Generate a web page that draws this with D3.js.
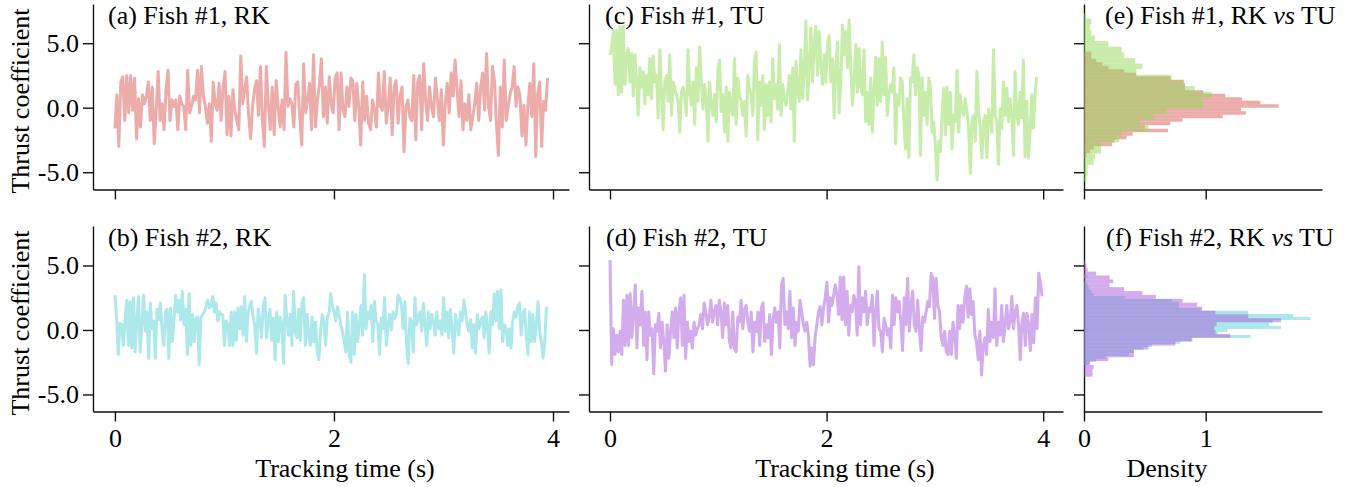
<!DOCTYPE html>
<html>
<head>
<meta charset="utf-8">
<script src="https://cdn.jsdelivr.net/npm/d3@7"></script>
<style>
  body { margin: 0; background: #fff; }
  svg text { font-family: "Liberation Serif", "Times New Roman", serif; }
</style>
</head>
<body>
<svg id="fig" width="1353" height="487"></svg>
<script>
const rkFish1 = [-1.6, 1.0, -3.0, 2.0, 2.4, -1.0, 2.5, -0.4, 2.5, -0.2, 2.3, -2.4, 0.7, -1.5, 1.0, 0.3, 0.9, 2.0, -1.0, 1.6,
  -2.8, -0.2, 2.8, -1.0, 0.3, -1.7, 1.4, 2.9, -1.0, 0.6, 0.1, 0.6, -1.7, 0.9, 0.3, 0.1, -1.7, 2.9, -0.4, 0.1,
  0.9, 0.6, 2.9, -0.4, 3.2, 0.9, 0.1, -1.2, 0.3, -2.6, 2.0, 0.3, -0.2, 1.9, -1.0, 1.6, 2.8, -2.1, 0.9, -2.2,
  1.4, -0.2, -1.0, -1.7, 4.0, 0.3, 1.4, 2.4, -0.6, -2.4, 0.1, 1.4, 2.1, -0.6, 3.2, -1.0, -3.0, 3.2, 0.3, -1.7,
  1.6, -2.1, 2.1, 0.1, -1.5, 0.6, -1.7, 4.3, 0.1, 0.7, 0.3, -1.5, 1.8, 2.0, -0.7, -2.9, 3.4, -0.4, 0.6, 1.9,
  -1.7, 4.1, -1.5, 0.6, 1.8, 3.8, -0.7, 1.6, -1.2, 2.4, 0.3, -0.4, 2.3, 2.7, -1.7, 2.7, -0.2, -0.7, 1.6, 0.1,
  2.3, 2.1, -1.0, 1.9, 0.1, -2.9, 2.0, -1.0, 0.9, -1.2, -1.7, 0.6, -0.2, -1.5, 2.7, 0.1, -0.2, 2.8, -1.2, 0.1,
  2.3, -2.1, 1.6, 2.1, -1.2, 0.9, 1.6, -3.4, 0.1, 0.6, -0.7, -1.0, 2.5, -2.5, 2.0, 2.5, -1.7, 3.4, 0.6, -1.0,
  1.6, 0.1, -0.7, 2.3, 0.6, -1.0, 1.4, -2.9, 0.3, 1.9, -0.4, 2.7, 0.9, 3.7, 1.4, -0.7, 2.1, -1.7, 0.3, -1.0,
  1.0, -1.7, -0.7, 0.3, 1.9, -1.0, 1.6, 2.7, -0.2, 4.2, 0.1, -1.0, 3.2, 2.1, -1.2, -3.7, 1.6, -1.5, 3.7, -1.0,
  0.1, 1.1, 1.6, 3.2, 0.1, 1.6, 0.9, -2.2, 0.2, -2.9, 0.1, 1.9, -0.7, 3.4, -3.8, 1.1, 2.0, -3.0, 0.5, -0.2, 2.3];

const rkFish2 = [2.7, 1.0, -1.9, 0.5, 0.4, -1.2, 0.8, 2.3, -1.2, 2.2, -1.4, 2.5, -1.7, 0.8, 2.6, -1.7, 0.4, 2.7, -0.1, 1.4,
  -2.2, 2.1, 0.1, 0.7, -2.2, 1.6, 0.8, 2.1, -0.1, -1.2, 1.4, 1.6, -2.2, 1.7, -0.9, 0.7, 2.7, 1.4, 2.3, 0.8,
  3.0, 0.4, 1.6, -1.9, 2.8, -1.2, 1.2, -0.9, 0.9, 1.0, -2.7, 1.0, 1.2, 1.4, 1.8, 2.3, 1.7, 1.9, 2.6, 1.4,
  2.1, 0.7, 1.4, 1.2, 1.2, -1.2, 0.7, 0.4, -1.2, 1.4, -1.2, 1.4, -0.8, 1.7, 0.1, 1.8, -0.4, 2.6, -0.9, 1.3,
  1.9, 2.2, 1.0, 0.3, -1.8, 1.6, 0.7, -0.6, 1.9, 2.5, -0.6, 0.7, 1.6, -0.8, 0.9, -2.3, 1.4, -0.9, 1.0, 0.5,
  -2.6, 2.7, 0.7, -0.4, 1.2, -1.2, 3.0, -0.1, -0.6, 1.6, -0.8, 2.1, 2.5, -1.2, 1.2, -0.4, -1.2, 1.0, -0.9, 0.6,
  -1.7, -2.3, -0.1, 1.2, 0.6, -1.2, 1.0, 1.3, 2.8, 1.9, 1.4, 0.7, 1.8, 1.2, 0.4, -0.1, -0.9, -1.7, 1.4, -1.9,
  -2.5, 1.4, -1.9, 1.2, -0.9, 0.4, 1.9, -0.4, 4.3, 0.1, 1.4, 0.9, 1.9, -0.9, 2.2, 0.7, 0.4, -1.9, 0.9, 0.1,
  2.5, -1.2, 0.4, 1.2, 0.0, 1.4, 0.9, 1.2, 2.7, 2.5, 1.9, 0.1, 2.2, -1.2, -2.6, 0.9, 0.7, -1.7, 2.5, 0.4,
  1.0, 1.4, -0.1, 2.1, 0.4, -1.2, 1.4, 0.1, 1.2, 0.7, -0.4, 1.4, 0.1, 0.7, -0.4, 2.5, -0.1, 1.4, -0.6, 1.6,
  0.1, -1.8, 1.2, 0.4, -0.4, 1.4, 0.7, 2.3, 1.4, 0.4, -0.1, 0.8, -1.4, 0.4, -1.8, 1.2, 0.1, 0.7, 1.0, -0.6,
  1.4, 0.4, -1.8, 1.4, 0.4, 2.8, 0.7, 3.0, 0.1, 3.1, -0.9, 0.4, 0.1, -1.2, 0.1, -1.4, 0.7, 1.4, 1.0, 1.8,
  2.1, -0.4, 1.2, 1.6, -0.4, -1.9, 1.4, -0.9, 1.2, -0.9, 0.4, 2.2, -0.1, -0.9, -2.2, -0.9, 1.8];

const tuFish1 = [4.1, 4.6, 6.0, 1.8, 6.0, 1.0, 6.3, 1.2, 6.3, 1.8, 4.1, 4.6, 2.0, 4.2, 0.9, 4.1, 2.0, -0.6, 3.1, 1.6,
  2.8, 0.3, 2.5, 1.0, 3.8, 0.7, 4.0, 2.0, 2.5, -0.8, 4.5, 1.2, -1.7, 2.0, 2.5, 0.5, 4.1, -0.6, 2.0, 1.5,
  1.0, 0.5, -1.9, 1.2, 1.6, 0.7, -0.6, 4.5, 1.2, 0.2, 2.0, -1.3, 3.1, 0.5, 4.7, 2.0, -0.1, 1.8, 0.7, -2.6,
  2.0, 0.2, -0.6, 1.0, -1.1, 2.9, 3.7, -0.3, 1.0, -1.9, 1.6, -2.6, 1.2, 0.2, -0.6, 3.8, -1.3, 2.3, 1.0, 0.5,
  -0.6, 0.5, -2.2, 2.5, 1.5, 1.0, -0.6, 3.6, 4.3, -2.5, 2.0, 0.2, 2.5, -1.7, 1.8, -0.6, 2.0, -1.1, 3.8, 0.7,
  1.8, -0.1, 4.9, -0.6, 1.8, 0.7, 0.2, 1.2, 2.5, -0.1, 3.1, -2.6, 3.6, 1.5, 0.5, 4.5, 0.7, 2.8, 6.7, 0.6,
  3.3, 6.2, 2.0, 5.1, 6.3, 2.5, 5.9, 3.3, 1.8, 4.1, 2.0, 4.9, 5.6, 2.0, 3.8, -0.8, 3.3, 5.1, -0.4, 2.0,
  6.4, 4.1, 5.9, 3.1, 6.8, 3.3, 0.2, 2.0, 4.9, 1.2, 4.6, 1.6, 1.0, 4.5, -1.1, 1.2, -1.3, 2.3, -1.9, 1.2,
  3.9, 0.2, 3.8, 0.5, 5.1, 1.0, 3.9, -0.6, 1.0, 1.8, 1.2, 3.1, -2.8, 1.0, 0.2, 2.3, 2.0, -1.1, -3.2, 0.7,
  -3.9, 2.3, 2.0, 4.1, 1.0, 3.1, 2.5, -3.7, 2.3, -0.6, 1.2, -1.3, 2.3, 1.6, -1.9, -1.1, -3.0, -5.6, -2.6, -3.4,
  -0.6, 1.5, -2.1, 1.6, -1.3, 1.2, -3.2, -0.6, -1.1, 2.9, -1.9, 1.0, -0.1, -0.6, 0.7, -0.3, -1.6, -5.1, -1.1, -0.6,
  -2.6, 2.8, -0.3, -1.6, -3.9, -1.1, -0.6, -3.9, -0.1, -0.8, -1.9, 4.5, -0.6, -1.1, -4.4, -0.1, -1.6, 2.0, -0.6, 1.5,
  -1.1, 0.7, -0.6, -3.7, 2.8, -0.6, -1.3, 1.2, -0.8, 3.7, -3.8, 0.5, -3.9, -1.9, 1.0, -1.6, 1.0, 2.4];

const tuFish2 = [5.4, -2.7, 0.1, -1.9, -0.4, -1.7, -0.1, -1.9, 2.3, -1.2, 2.7, -1.2, 2.8, -0.6, 1.4, 3.5, -1.4, 1.7, 0.4, 3.0,
  -1.2, 1.4, -2.3, 1.4, -0.4, 0.1, -3.4, 0.4, -0.1, 1.3, -1.4, 0.6, -0.9, -3.2, 0.4, -2.2, -0.1, 1.4, -0.6, 1.7,
  -1.4, 1.4, 2.5, -1.2, 2.7, -2.2, 0.6, -0.9, -0.1, -1.4, 0.6, -0.4, 0.1, 0.4, 1.2, 0.1, 2.1, 1.4, 0.4, 1.0,
  2.3, 0.6, 1.4, 1.9, 0.4, 2.3, 1.4, -0.6, 2.1, 0.4, 1.9, -0.9, -1.4, 1.4, -1.4, -1.7, 1.0, 0.6, 2.3, 0.1,
  1.6, 1.9, 0.6, -0.1, 1.4, -1.7, 0.6, -0.1, 1.4, -1.2, 1.7, 2.1, -0.9, 0.4, -0.6, 1.2, -1.9, 0.8, 1.7, 0.6,
  1.4, -1.4, 3.5, 4.0, 0.4, 1.4, 0.1, 3.0, -0.6, 1.7, -1.2, 0.6, -0.1, 2.3, 1.4, 0.4, -0.1, 0.6, -0.4, -2.8,
  -1.4, -2.7, -0.6, 0.4, 1.4, 1.8, 0.4, 1.7, 2.5, 3.7, 0.6, 2.5, 1.9, 2.7, 3.5, 2.7, 1.2, 4.1, 0.8, 4.1,
  0.4, 3.0, -0.4, 1.9, 1.4, 2.7, 2.2, -0.4, 4.9, 0.4, 2.5, 1.4, 3.0, 0.4, 1.7, 1.4, 2.7, -1.2, 1.4, 3.0,
  0.1, -0.1, -1.7, 0.9, 0.4, -0.4, 0.1, -1.4, 2.7, 0.4, 2.5, 1.4, 2.2, 0.6, -1.6, 2.5, 0.4, 4.0, -0.1, 1.9,
  3.0, 0.4, -0.1, 2.3, 0.1, -1.6, 1.0, 0.6, 1.4, 2.2, 1.8, 4.4, 4.0, 0.9, 4.0, 1.9, 1.4, -0.6, -1.2, -0.1,
  -1.7, -1.9, -0.1, -1.9, 0.6, -0.4, -2.2, 1.9, 0.1, 1.9, 0.6, 2.5, 3.4, 1.0, 3.2, 1.2, 2.2, -0.4, -0.9, -2.3,
  -0.1, -3.5, -1.2, -0.6, -1.9, 1.6, -0.9, 0.6, -0.6, 3.2, -1.2, 0.6, -0.4, 1.9, -0.9, 0.4, 1.9, 0.1, 0.6, 2.6,
  0.1, 1.4, 1.9, 0.4, -2.3, 0.6, 1.3, -1.2, 1.3, 0.4, -1.6, 1.2, -1.0, 2.5, 0.1, 4.4, 3.7, 2.6];

// last sample time of each record (s)
const trackEnd = { rkFish1: 3.95, rkFish2: 3.94, tuFish1: 3.94, tuFish2: 3.99 };

// histogram densities, 30 bins each, lowest bin first; range = [min, max] of the binned values
const rkFish1Range = [-3.8, 4.34];
const rkFish1Density = [0.02, 0.05, 0.08, 0.23, 0.25, 0.35, 0.40, 0.69, 0.50, 0.71, 0.81, 1.14, 1.33, 1.29, 1.60,
  1.45, 1.30, 1.16, 0.98, 0.83, 0.83, 0.82, 0.71, 0.43, 0.33, 0.20, 0.15, 0.10, 0.06, 0.06];
const tuFish1Range = [-5.74, 7.35];
const tuFish1Density = [0.02, 0.03, 0.03, 0.08, 0.09, 0.14, 0.14, 0.29, 0.31, 0.53, 0.46, 0.58, 0.68, 0.98, 0.97,
  1.05, 0.91, 0.82, 0.72, 0.43, 0.48, 0.42, 0.33, 0.31, 0.20, 0.09, 0.06, 0.05, 0.06, 0.014];
const rkFish2Range = [-2.71, 4.26];
const rkFish2Density = [0.04, 0.10, 0.18, 0.37, 0.41, 0.49, 0.56, 0.79, 0.88, 1.37, 1.10, 1.18, 1.62, 1.52, 1.55,
  1.86, 1.72, 1.35, 0.96, 0.78, 0.78, 0.72, 0.34, 0.08, 0.06, 0.04, 0.03, 0.02, 0.0, 0.03];
const tuFish2Range = [-3.62, 5.43];
const tuFish2Density = [0.07, 0.07, 0.08, 0.05, 0.20, 0.41, 0.41, 0.53, 0.75, 0.89, 1.20, 1.08, 1.07, 1.09, 1.62,
  1.35, 1.08, 0.97, 0.93, 0.81, 0.59, 0.48, 0.33, 0.21, 0.24, 0.21, 0.10, 0.03, 0.02, 0.01];

const timeTicks = [0, 2, 4];
const thrustTicks = [-5, 0, 5];
const densityTicks = [0, 1];

const colors = { rkFish1: "#d95955", tuFish1: "#92d956", rkFish2: "#5bd1d7", tuFish2: "#a559d9" };

// layout (pixels)
const cols = [
  { x0: 93, x1: 569, domain: [-0.2, 4.146] },
  { x0: 589, x1: 1063, domain: [-0.194, 4.183] },
  { x0: 1084, x1: 1322, domain: [0, 1.956] }
];
const rows = [
  { y0: 4, y1: 189.5, domain: [-6.34, 8.04] },
  { y0: 226, y1: 411.5, domain: [-6.32, 8.06] }
];
const fontSize = 26;

const svg = d3.select("#fig");

function styleAxis(g) {
  g.attr("font-family", null).attr("font-size", null);
  g.selectAll("path.domain").attr("stroke", "#111").attr("stroke-width", 1.4);
  g.selectAll(".tick line").attr("stroke", "#111").attr("stroke-width", 1.4);
  g.selectAll(".tick text").attr("fill", "#000").style("font-size", fontSize + "px");
}

function makeAxes(r, c, xTicks, xLabels, yLabels) {
  const row = rows[r], col = cols[c];
  const x = d3.scaleLinear().domain(col.domain).range([col.x0, col.x1]);
  const y = d3.scaleLinear().domain(row.domain).range([row.y1, row.y0]);

  svg.append("g")
    .attr("transform", `translate(0,${row.y1})`)
    .call(d3.axisBottom(x).tickValues(xTicks).tickSize(10).tickSizeOuter(0).tickPadding(7)
      .tickFormat(xLabels ? d3.format("d") : () => ""))
    .call(styleAxis);

  svg.append("g")
    .attr("transform", `translate(${col.x0},0)`)
    .call(d3.axisLeft(y).tickValues(thrustTicks).tickSize(10).tickSizeOuter(0).tickPadding(4)
      .tickFormat(yLabels ? d => d.toFixed(1) : () => ""))
    .call(styleAxis);

  return { x, y };
}

function drawSeries(ax, values, tEnd, color) {
  const dt = tEnd / (values.length - 1);
  const line = d3.line().x((d, i) => ax.x(i * dt)).y(d => ax.y(d));
  svg.append("path")
    .datum(values)
    .attr("d", line)
    .attr("fill", "none")
    .attr("stroke", color)
    .attr("stroke-opacity", 0.5)
    .attr("stroke-width", 3)
    .attr("stroke-linejoin", "round");
}

function drawHist(ax, density, range, color) {
  const w = (range[1] - range[0]) / density.length;
  svg.append("g").selectAll("rect")
    .data(density)
    .join("rect")
    .attr("x", ax.x(0))
    .attr("y", (d, i) => ax.y(range[0] + (i + 1) * w))
    .attr("width", d => ax.x(d) - ax.x(0))
    .attr("height", (d, i) => ax.y(range[0] + i * w) - ax.y(range[0] + (i + 1) * w))
    .attr("fill", color)
    .attr("fill-opacity", 0.5);
}

function title(xPos, yPos, label, versus) {
  const t = svg.append("text").attr("x", xPos).attr("y", yPos).style("font-size", fontSize + "px");
  t.append("tspan").text(label);
  if (versus) {
    t.append("tspan").style("font-style", "italic").text(" vs");
    t.append("tspan").text(" TU");
  }
}

// row 1: fish #1
const axA = makeAxes(0, 0, timeTicks, false, true);
drawSeries(axA, rkFish1, trackEnd.rkFish1, colors.rkFish1);
const axC = makeAxes(0, 1, timeTicks, false, false);
drawSeries(axC, tuFish1, trackEnd.tuFish1, colors.tuFish1);
const axE = makeAxes(0, 2, densityTicks, false, false);
drawHist(axE, rkFish1Density, rkFish1Range, colors.rkFish1);
drawHist(axE, tuFish1Density, tuFish1Range, colors.tuFish1);

// row 2: fish #2
const axB = makeAxes(1, 0, timeTicks, true, true);
drawSeries(axB, rkFish2, trackEnd.rkFish2, colors.rkFish2);
const axD = makeAxes(1, 1, timeTicks, true, false);
drawSeries(axD, tuFish2, trackEnd.tuFish2, colors.tuFish2);
const axF = makeAxes(1, 2, densityTicks, true, false);
drawHist(axF, rkFish2Density, rkFish2Range, colors.rkFish2);
drawHist(axF, tuFish2Density, tuFish2Range, colors.tuFish2);

// panel titles
title(108, 24, "(a) Fish #1, RK");
title(605, 24, "(c) Fish #1, TU");
title(1105, 24, "(e) Fish #1, RK", true);
title(108, 246, "(b) Fish #2, RK");
title(606, 246, "(d) Fish #2, TU");
title(1106, 246, "(f) Fish #2, RK", true);

// axis labels
[101, 323].forEach(cy => {
  svg.append("text")
    .attr("transform", `translate(29,${cy}) rotate(-90)`)
    .attr("text-anchor", "middle")
    .style("font-size", fontSize + "px")
    .text("Thrust coefficient");
});
[[345, "Tracking time (s)"], [845, "Tracking time (s)"], [1167, "Density"]].forEach(([cx, s]) => {
  svg.append("text")
    .attr("x", cx).attr("y", 477)
    .attr("text-anchor", "middle")
    .style("font-size", fontSize + "px")
    .text(s);
});
</script>
</body>
</html>
